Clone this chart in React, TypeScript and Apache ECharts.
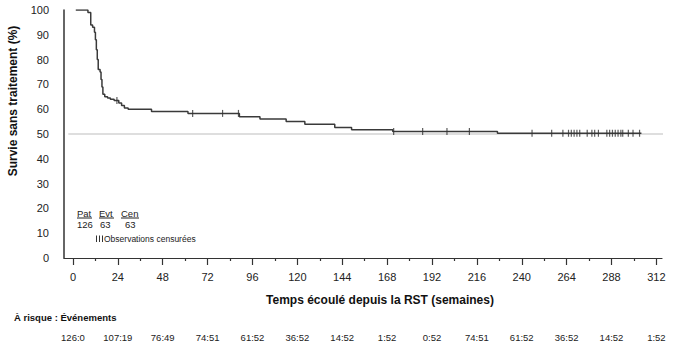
import React, { useEffect, useRef } from "react";
import * as echarts from "echarts";

// Kaplan-Meier step curve (weeks, survival %)
const kmTimes = [1.5, 8, 9.5, 10.5, 11.5, 12, 12.5, 13, 13.5, 14.5, 15, 15.5, 16, 17, 18.5, 20, 22, 24.5, 26, 27.5, 29.5, 42, 61.5, 89, 100, 114, 124, 140, 149, 171, 227, 304];
const kmSurv = [100, 99, 94, 93, 91, 88, 84, 80, 76, 75, 72, 69, 66, 65, 64.5, 64, 63.5, 62.5, 61.5, 60.5, 60, 59.1, 58.3, 57, 56, 55, 53.9, 52.6, 51.7, 51.0, 50.3, 50.3];

// Censored observations (weeks)
const censorTimes = [23.5, 64, 80, 88.5, 171.5, 187, 200, 212, 245.5, 256, 262, 265, 266.5, 268, 269.5, 271, 275, 277.5, 279, 281, 285.5, 287, 288.5, 290, 291.5, 293, 294, 297, 299.5, 303];

// Axis ticks
const xTicks = [0, 24, 48, 72, 96, 120, 144, 168, 192, 216, 240, 264, 288, 312];
const xMinorTicks = [12, 36, 60, 84, 108, 132, 156, 180, 204, 228, 252, 276, 300];

// Numbers at risk : events
const riskLabels = ["126:0", "107:19", "76:49", "74:51", "61:52", "36:52", "14:52", "1:52", "0:52", "74:51", "61:52", "36:52", "14:52", "1:52"];

// Reference line level
const refLevel = 50;

const FONT = "Liberation Sans, Arial, sans-serif";

function levelAt(t: number): number {
  let s = kmSurv[0];
  for (let i = 0; i < kmTimes.length; i++) {
    if (kmTimes[i] <= t) s = kmSurv[i];
  }
  return s;
}

export default function App() {
  const ref = useRef<HTMLDivElement>(null);
  useEffect(() => {
    document.body.style.margin = "0";
    if (!ref.current) return;
    const chart = echarts.init(ref.current, undefined, { renderer: "svg" });
    const xMin = -4.8;
    const xMax = 315;
    const textColor = "#222";
    const option: any = {
      animation: false,
      grid: { left: 64, right: 15, top: 10, bottom: 95, containLabel: false },
      xAxis: [
        {
          type: "value", min: xMin, max: xMax, position: "bottom",
          axisLine: { show: true, onZero: false, lineStyle: { color: "#333", width: 1.2 } },
          axisTick: { show: true, customValues: xTicks, length: 7, lineStyle: { color: "#333", width: 1.2 } },
          axisLabel: { show: true, customValues: xTicks, margin: 13, fontSize: 11, color: textColor, fontFamily: FONT },
          splitLine: { show: false },
        },
        {
          type: "value", min: xMin, max: xMax, position: "bottom", offset: 0,
          axisLine: { show: false, onZero: false },
          axisTick: { show: true, customValues: xMinorTicks, length: 3, lineStyle: { color: "#333", width: 1.2 } },
          axisLabel: { show: false },
          splitLine: { show: false },
        },
        {
          type: "value", min: xMin, max: xMax, position: "bottom", offset: 66,
          axisLine: { show: false, onZero: false },
          axisTick: { show: false },
          axisLabel: {
            show: true, customValues: xTicks, margin: 8, fontSize: 9.5, color: textColor, fontFamily: FONT,
            formatter: (v: number) => riskLabels[xTicks.indexOf(v)] ?? "",
          },
          splitLine: { show: false },
        },
      ],
      yAxis: {
        type: "value", min: 0, max: 100, interval: 10,
        axisLine: { show: true, onZero: false, lineStyle: { color: "#333", width: 1.5 } },
        axisTick: { show: false },
        axisLabel: { margin: 15, fontSize: 11, color: textColor, fontFamily: FONT },
        splitLine: { show: false },
      },
      series: [
        {
          type: "line", xAxisIndex: 0, data: [[-2.5, refLevel], [318, refLevel]], clip: false,
          symbol: "none", lineStyle: { color: "#bdbdbd", width: 1 }, z: 1, silent: true,
        },
        {
          type: "line", xAxisIndex: 0, step: "end",
          data: kmTimes.map((t, i) => [t, kmSurv[i]]),
          symbol: "none", lineStyle: { color: "#3a3a3a", width: 1.5 }, z: 3,
        },
        {
          type: "scatter", xAxisIndex: 0,
          data: censorTimes.map((t) => [t, levelAt(t)]),
          symbol: "rect", symbolSize: [1.2, 7], itemStyle: { color: "#333" }, z: 4,
        },
      ],
      graphic: [
        {
          type: "text", x: 13, y: 101, rotation: Math.PI / 2,
          style: { text: "Survie sans traitement (%)", font: `bold 12px ${FONT}`, fill: "#111", align: "center", verticalAlign: "middle" },
        },
        {
          type: "text", x: 380, y: 300,
          style: { text: "Temps écoulé depuis la RST (semaines)", font: `bold 12px ${FONT}`, fill: "#111", align: "center", verticalAlign: "middle" },
        },
        {
          type: "text", x: 14, y: 317,
          style: { text: "À risque : Événements", font: `bold 9.5px ${FONT}`, fill: "#111", align: "left", verticalAlign: "middle" },
        },
        { type: "text", x: 77, y: 213, style: { text: "Pat", font: `9.5px ${FONT}`, fill: textColor, align: "left", verticalAlign: "middle" } },
        { type: "text", x: 99, y: 213, style: { text: "Evt", font: `9.5px ${FONT}`, fill: textColor, align: "left", verticalAlign: "middle" } },
        { type: "text", x: 121, y: 213, style: { text: "Cen", font: `9.5px ${FONT}`, fill: textColor, align: "left", verticalAlign: "middle" } },
        { type: "line", shape: { x1: 77, y1: 218, x2: 92, y2: 218 }, style: { stroke: textColor, lineWidth: 1 } },
        { type: "line", shape: { x1: 99, y1: 218, x2: 114, y2: 218 }, style: { stroke: textColor, lineWidth: 1 } },
        { type: "line", shape: { x1: 121, y1: 218, x2: 139, y2: 218 }, style: { stroke: textColor, lineWidth: 1 } },
        { type: "text", x: 77, y: 224, style: { text: "126", font: `9.5px ${FONT}`, fill: textColor, align: "left", verticalAlign: "middle" } },
        { type: "text", x: 100, y: 224, style: { text: "63", font: `9.5px ${FONT}`, fill: textColor, align: "left", verticalAlign: "middle" } },
        { type: "text", x: 125, y: 224, style: { text: "63", font: `9.5px ${FONT}`, fill: textColor, align: "left", verticalAlign: "middle" } },
        { type: "line", shape: { x1: 96.5, y1: 235.5, x2: 96.5, y2: 242 }, style: { stroke: "#333", lineWidth: 1 } },
        { type: "line", shape: { x1: 99.5, y1: 235.5, x2: 99.5, y2: 242 }, style: { stroke: "#333", lineWidth: 1 } },
        { type: "line", shape: { x1: 102.5, y1: 235.5, x2: 102.5, y2: 242 }, style: { stroke: "#333", lineWidth: 1 } },
        { type: "text", x: 104, y: 239, style: { text: "Observations censurées", font: `8.5px ${FONT}`, fill: textColor, align: "left", verticalAlign: "middle" } },
      ],
    };
    chart.setOption(option);
    return () => chart.dispose();
  }, []);
  return <div ref={ref} style={{ width: 677, height: 353 }} />;
}
